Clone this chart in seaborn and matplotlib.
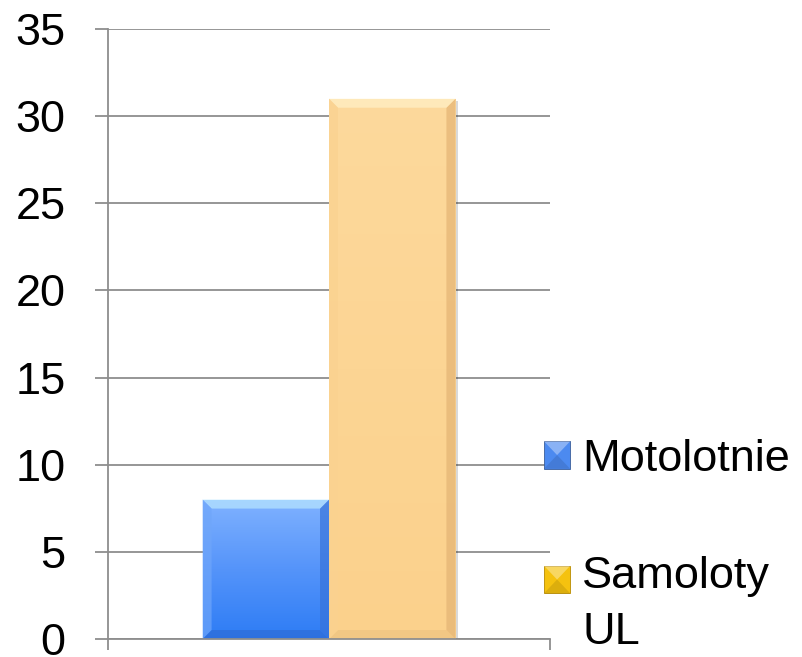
import numpy as np
import pandas as pd
import seaborn as sns
import matplotlib
matplotlib.use("Agg")
import matplotlib.pyplot as plt
from matplotlib.patches import Rectangle, Polygon, Patch
from matplotlib.legend_handler import HandlerPatch
from matplotlib.colors import LinearSegmentedColormap
import matplotlib.transforms as mtransforms

# --- data ---------------------------------------------------------------
series = ["Motolotnie", "Samoloty\nUL"]
counts = [8, 31]
group = ["", ""]
y_ticks = [0, 5, 10, 15, 20, 25, 30, 35]

bar_colors = ["#5C97F8", "#FCD594"]
legend_colors = ["#4C8AF0", "#F5C20F"]

df = pd.DataFrame({"grupa": group, "typ": series, "liczba": counts})

sns.set_theme(style="white")
plt.rcParams["font.family"] = ["Liberation Sans", "DejaVu Sans"]
plt.rcParams["text.color"] = "black"

GRID = "#8E8E8E"
FS = 32.5

fig = plt.figure(figsize=(8.03, 6.57), dpi=100)
ax = fig.add_axes([108 / 803, 1 - 639 / 657, 442 / 803, 610 / 657])

sns.barplot(data=df, x="grupa", y="liczba", hue="typ", hue_order=series,
            palette=bar_colors, saturation=1, width=0.572, gap=0,
            dodge=True, legend=False, ax=ax, linewidth=0, edgecolor="none")

ax.set_ylim(0, 35)
ax.set_xlim(-0.5, 0.5)
ax.set_yticks(y_ticks)
ax.set_xticks([-0.5, 0.5])
ax.set_xticklabels(["", ""])
ax.set_xlabel("")
ax.set_ylabel("")

ax.yaxis.grid(True, color=GRID, linewidth=1.3)
ax.xaxis.grid(False)
ax.set_axisbelow(True)
for side in ["top", "right"]:
    ax.spines[side].set_visible(False)
for side in ["left", "bottom"]:
    ax.spines[side].set_color(GRID)
    ax.spines[side].set_linewidth(1.3)
ax.tick_params(axis="y", length=9.5, width=1.3, color=GRID, pad=21,
               labelsize=FS, left=True, direction="out", labelcolor="black")
ax.tick_params(axis="x", length=8, width=1.3, color=GRID, bottom=True,
               direction="out")

# --- gradient fill, bevel and shadow on every bar -------------------------
gradients = [
    LinearSegmentedColormap.from_list("b", ["#2D7CF5", "#5594FA", "#80B2FF"]),
    LinearSegmentedColormap.from_list("o", ["#FBD18C", "#FCD594", "#FDD99C"]),
]
bevels = [
    {"top": "#B8E6FF", "left": "#6FA6FA", "right": "#3672DA", "bottom": "#2F6CD6"},
    {"top": "#FFF1C8", "left": "#FAD290", "right": "#E4B474", "bottom": "#EEC382"},
]

T = ax.transData
shadow_tr = mtransforms.offset_copy(T, fig=fig, x=3, y=-2, units="dots")
bars = [p for p in ax.patches if isinstance(p, Rectangle)]
S = 9  # bevel width in pixels

for i, bar in enumerate(bars):
    x0, y0 = bar.get_x(), bar.get_y()
    w, h = bar.get_width(), bar.get_height()
    z = bar.get_zorder()

    ax.add_patch(Rectangle((x0, y0), w, h, transform=shadow_tr,
                           facecolor="black", alpha=0.15, edgecolor="none",
                           zorder=z - 0.1))

    grad = np.linspace(0, 1, 256).reshape(-1, 1)
    im = ax.imshow(grad, cmap=gradients[i], origin="lower", aspect="auto",
                   extent=(x0, x0 + w, y0, y0 + h), zorder=z + 0.01)
    im.set_clip_path(bar)

    (px0, py0) = T.transform((x0, y0))
    (px1, py1) = T.transform((x0 + w, y0 + h))
    o = [(px0, py0), (px1, py0), (px1, py1), (px0, py1)]
    n = [(px0 + S, py0 + S), (px1 - S, py0 + S), (px1 - S, py1 - S), (px0 + S, py1 - S)]
    inv = T.inverted()
    strips = {
        "bottom": [o[0], o[1], n[1], n[0]],
        "right": [o[1], o[2], n[2], n[1]],
        "top": [o[2], o[3], n[3], n[2]],
        "left": [o[3], o[0], n[0], n[3]],
    }
    for key, pts in strips.items():
        ax.add_patch(Polygon(inv.transform(pts), closed=True,
                             facecolor=bevels[i][key], edgecolor="none",
                             alpha=0.7, zorder=z + 0.02))

ax.set_xlim(-0.5, 0.5)
ax.set_ylim(0, 35)


# --- legend with beveled squares ----------------------------------------
class BevelSquare(HandlerPatch):
    def __init__(self, shift=0.0, **kw):
        super().__init__(**kw)
        self.shift = shift

    def create_artists(self, legend, orig_handle, xdescent, ydescent,
                       width, height, fontsize, trans):
        x0 = -xdescent
        y0 = -ydescent + self.shift
        c = orig_handle.get_facecolor()
        base = Rectangle((x0, y0), width, height, facecolor=c,
                         edgecolor="#3A5E9A" if c[2] > c[0] else "#B88A00",
                         linewidth=0.6, transform=trans)
        cx, cy = x0 + width / 2, y0 + height / 2
        top = Polygon([(x0, y0 + height), (x0 + width, y0 + height), (cx, cy)],
                      facecolor="white", alpha=0.35, edgecolor="none",
                      transform=trans)
        bot = Polygon([(x0, y0), (x0 + width, y0), (cx, cy)],
                      facecolor="black", alpha=0.10, edgecolor="none",
                      transform=trans)
        return [base, top, bot]


handles = [Patch(facecolor=c, label=s) for c, s in zip(legend_colors, series)]
leg = fig.legend(handles=handles, labels=series,
                 handler_map={handles[0]: BevelSquare(0.0),
                              handles[1]: BevelSquare(18.0)},
                 loc="upper left", bbox_to_anchor=(544 / 803, 1 - 439 / 657),
                 frameon=False, fontsize=FS, handlelength=0.58,
                 handleheight=0.56, handletextpad=0.27, labelspacing=1.68,
                 borderpad=0, borderaxespad=0, labelcolor="black")
for t in leg.get_texts():
    t.set_linespacing(1.48)

fig.savefig("out.png", dpi=100)
